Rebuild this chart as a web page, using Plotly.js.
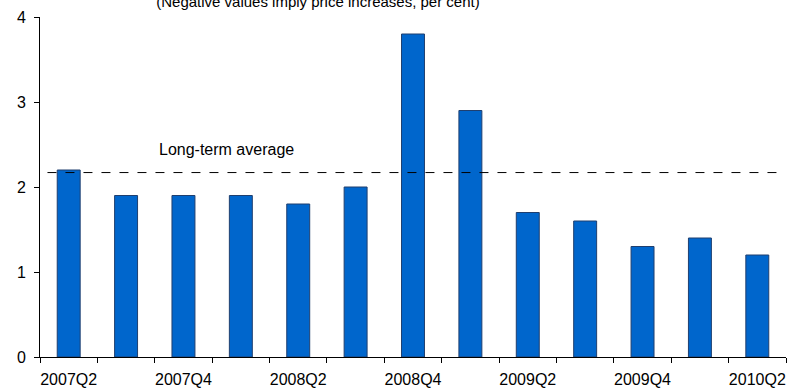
<!DOCTYPE html>
<html><head><meta charset="utf-8">
<script src="https://cdn.plot.ly/plotly-3.0.1.min.js"></script>
<style>html,body{margin:0;padding:0;background:#fff}#chart{width:789px;height:389px}</style>
</head><body><div id="chart"></div>
<script>
const categories = ["2007Q2","2007Q3","2007Q4","2008Q1","2008Q2","2008Q3","2008Q4","2009Q1","2009Q2","2009Q3","2009Q4","2010Q1","2010Q2"];
const values = [2.2,1.9,1.9,1.9,1.8,2.0,3.8,2.9,1.7,1.6,1.3,1.4,1.2];
const tickLabels = ["2007Q2","","2007Q4","","2008Q2","","2008Q4","","2009Q2","","2009Q4","","2010Q2"];
const longTermAverage = 2.17;
const titleText = "(Negative values imply price increases, per cent)";

const trace = {
  type: "bar", x: categories, y: values,
  marker: {color: "#0066CC", line: {color: "#1F3F6F", width: 1}},
  width: 0.4, hoverinfo: "x+y"
};
const layout = {
  width: 789, height: 389,
  margin: {l: 40, r: 3, t: 17, b: 32},
  paper_bgcolor: "#fff", plot_bgcolor: "#fff",
  showlegend: false,
  font: {family: "Liberation Sans, Arial, sans-serif", size: 16, color: "#000"},
  title: {text: titleText, x: 0.403, xanchor: "center", y: 0.995, yanchor: "middle", yref: "container", font: {size: 15, color: "#000"}},
  xaxis: {type: "category", range: [-0.5, 12.5], tickvals: categories, ticktext: tickLabels,
    tickson: "boundaries", ticks: "outside", ticklen: 5, tickcolor: "#000",
    tickangle: 0, ticklabelstandoff: 8,
    showline: true, linecolor: "#000", linewidth: 1, showgrid: false, zeroline: false,
    tickfont: {size: 16}},
  yaxis: {range: [0, 4], dtick: 1, ticks: "outside", ticklen: 5, tickcolor: "#000",
    ticklabelstandoff: 5,
    showline: true, linecolor: "#000", linewidth: 1, showgrid: false, zeroline: false,
    tickfont: {size: 16}},
  shapes: [{type: "line", xref: "paper", yref: "y", x0: 0.01, x1: 0.99, y0: longTermAverage, y1: longTermAverage,
    line: {color: "#000", width: 1, dash: "dash"}}],
  annotations: [{text: "Long-term average", xref: "paper", yref: "y", x: 0.157, y: 2.44, xanchor: "left", yanchor: "middle", showarrow: false, font: {size: 16}}]
};
Plotly.newPlot("chart", [trace], layout, {displayModeBar: false});
</script></body></html>
